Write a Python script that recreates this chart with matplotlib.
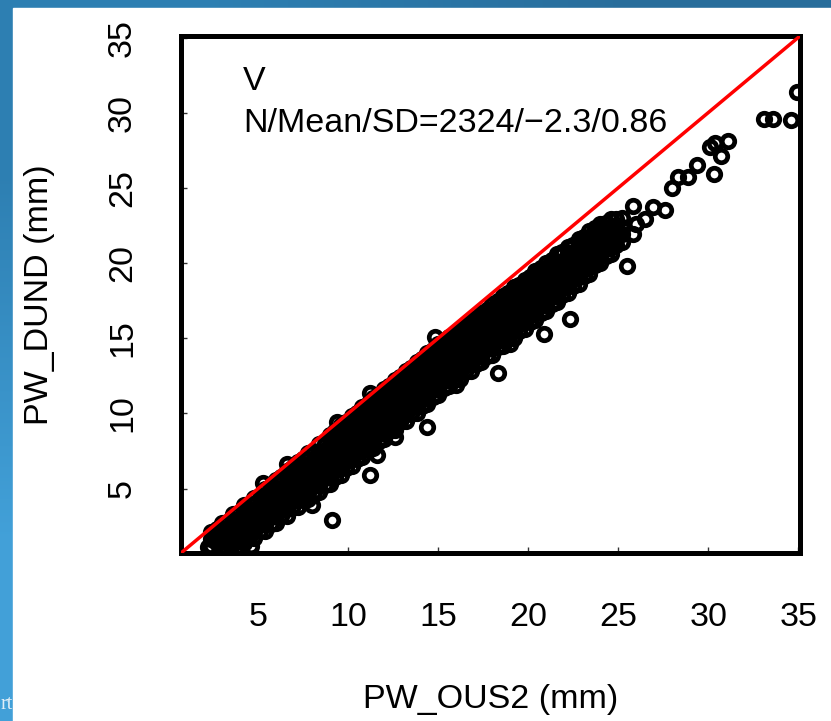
import matplotlib
matplotlib.use("Agg")
import matplotlib.pyplot as plt
from matplotlib.patches import Rectangle
import numpy as np

plt.rcParams['font.family'] = ['Liberation Sans', 'DejaVu Sans']

# dense band: PW_OUS2 column values and the PW_DUND values seen at each one
band_ous2 = [2.4, 2.7, 3.0, 3.3, 3.6, 3.9, 4.2, 4.5, 4.8, 5.1, 5.4, 5.7,
             6.0, 6.3, 6.6, 6.9, 7.2, 7.5, 7.8, 8.1, 8.4, 8.7, 9.0, 9.3,
             9.6, 9.9, 10.2, 10.5, 10.8, 11.1, 11.4, 11.7, 12.0, 12.3, 12.6,
             12.9, 13.2, 13.5, 13.8, 14.1, 14.4, 14.7, 15.0, 15.3, 15.6, 15.9,
             16.2, 16.5, 16.8, 17.1, 17.4, 17.7, 18.0, 18.3, 18.6, 18.9, 19.2,
             19.5, 19.8, 20.1, 20.4, 20.7, 21.0, 21.3, 21.6, 21.9, 22.2, 22.5,
             22.8, 23.1, 23.4, 23.7, 24.0, 24.3, 24.6, 24.9, 25.2]
band_dund = [
    [1.2, 1.65, 2.1],
    [1.4, 1.85, 2.3],
    [1.2, 1.6, 2.0, 2.35, 2.7],
    [1.45, 1.9, 2.35, 2.8],
    [1.3, 1.75, 2.2, 2.6, 3.0, 3.3],
    [1.55, 2.0, 2.45, 2.9, 3.35],
    [1.4, 1.85, 2.3, 2.75, 3.2, 3.6, 3.9],
    [1.75, 2.2, 2.65, 3.1, 3.55, 4.0],
    [1.7, 2.15, 2.6, 3.05, 3.5, 3.95, 4.4],
    [2.15, 2.6, 3.05, 3.5, 3.95, 4.4],
    [2.2, 2.65, 3.1, 3.55, 4.0, 4.5, 5.0],
    [2.65, 3.1, 3.55, 4.0, 4.45, 4.9, 5.2],
    [2.7, 3.15, 3.6, 4.05, 4.5, 4.95, 5.35, 5.6],
    [3.15, 3.6, 4.05, 4.5, 4.95, 5.4, 5.8],
    [3.2, 3.65, 4.1, 4.55, 5.0, 5.4, 5.8, 6.2],
    [3.7, 4.15, 4.6, 5.05, 5.5, 5.95, 6.4],
    [3.8, 4.25, 4.7, 5.15, 5.6, 6.0, 6.4, 6.8],
    [4.25, 4.7, 5.15, 5.6, 6.05, 6.5, 6.95],
    [4.3, 4.75, 5.2, 5.65, 6.1, 6.55, 7.0, 7.4],
    [4.75, 5.2, 5.65, 6.1, 6.55, 7.0, 7.45],
    [4.8, 5.25, 5.7, 6.15, 6.6, 7.05, 7.5, 8.0],
    [5.25, 5.7, 6.15, 6.6, 7.05, 7.5, 7.95],
    [5.3, 5.75, 6.2, 6.65, 7.1, 7.55, 8.0, 8.3, 8.6],
    [5.8, 6.25, 6.7, 7.15, 7.6, 8.05, 8.5, 8.8],
    [5.9, 6.35, 6.8, 7.25, 7.7, 8.15, 8.6, 8.9, 9.2],
    [6.4, 6.85, 7.3, 7.75, 8.2, 8.65, 9.1, 9.4],
    [6.5, 6.95, 7.4, 7.85, 8.3, 8.75, 9.2, 9.5, 9.8],
    [7.0, 7.45, 7.9, 8.35, 8.8, 9.25, 9.7, 10.0],
    [7.1, 7.55, 8.0, 8.45, 8.9, 9.35, 9.8, 10.1, 10.4],
    [7.6, 8.05, 8.5, 8.95, 9.4, 9.85, 10.3, 10.6],
    [7.7, 8.15, 8.6, 9.05, 9.5, 9.95, 10.4, 10.7, 11.0],
    [8.2, 8.65, 9.1, 9.55, 10.0, 10.45, 10.9, 11.2],
    [8.3, 8.75, 9.2, 9.65, 10.1, 10.55, 11.0, 11.3, 11.6],
    [8.8, 9.25, 9.7, 10.15, 10.6, 11.05, 11.5, 11.8],
    [8.9, 9.35, 9.8, 10.25, 10.7, 11.15, 11.6, 11.9, 12.2],
    [9.4, 9.85, 10.3, 10.75, 11.2, 11.65, 12.1, 12.4],
    [9.5, 9.95, 10.4, 10.85, 11.3, 11.75, 12.2, 12.5, 12.8],
    [9.95, 10.4, 10.85, 11.3, 11.75, 12.2, 12.65, 13.0],
    [10.0, 10.45, 10.9, 11.35, 11.8, 12.25, 12.7, 13.05, 13.4],
    [10.5, 10.95, 11.4, 11.85, 12.3, 12.75, 13.2, 13.6],
    [10.6, 11.05, 11.5, 11.95, 12.4, 12.85, 13.3, 13.65, 14.0],
    [11.1, 11.55, 12.0, 12.45, 12.9, 13.35, 13.8, 14.2],
    [11.2, 11.65, 12.1, 12.55, 13.0, 13.45, 13.9, 14.25, 14.6],
    [11.7, 12.15, 12.6, 13.05, 13.5, 13.95, 14.4, 14.75],
    [11.8, 12.25, 12.7, 13.15, 13.6, 14.05, 14.5, 14.8, 15.1],
    [12.25, 12.7, 13.15, 13.6, 14.05, 14.5, 14.95, 15.25],
    [12.3, 12.75, 13.2, 13.65, 14.1, 14.55, 15.0, 15.3, 15.6],
    [12.75, 13.2, 13.65, 14.1, 14.55, 15.0, 15.45, 15.8],
    [12.8, 13.25, 13.7, 14.15, 14.6, 15.05, 15.5, 15.85, 16.2],
    [13.3, 13.75, 14.2, 14.65, 15.1, 15.55, 16.0, 16.35],
    [13.4, 13.85, 14.3, 14.75, 15.2, 15.65, 16.1, 16.4, 16.7],
    [13.85, 14.3, 14.75, 15.2, 15.65, 16.1, 16.55, 16.9],
    [13.9, 14.35, 14.8, 15.25, 15.7, 16.15, 16.6, 16.95, 17.3],
    [14.4, 14.85, 15.3, 15.75, 16.2, 16.65, 17.1, 17.45],
    [14.5, 14.95, 15.4, 15.85, 16.3, 16.75, 17.2, 17.5, 17.8],
    [14.95, 15.4, 15.85, 16.3, 16.75, 17.2, 17.65, 18.0],
    [15.0, 15.45, 15.9, 16.35, 16.8, 17.25, 17.7, 18.05, 18.4],
    [15.5, 15.95, 16.4, 16.85, 17.3, 17.75, 18.2, 18.55],
    [15.6, 16.05, 16.5, 16.95, 17.4, 17.85, 18.3, 18.6, 18.9],
    [16.1, 16.55, 17.0, 17.45, 17.9, 18.35, 18.8, 19.1],
    [16.2, 16.65, 17.1, 17.55, 18.0, 18.45, 18.9, 19.2, 19.5],
    [16.7, 17.15, 17.6, 18.05, 18.5, 18.95, 19.4, 19.65],
    [16.8, 17.25, 17.7, 18.15, 18.6, 19.05, 19.5, 20.0],
    [17.3, 17.75, 18.2, 18.65, 19.1, 19.55, 20.0, 20.2],
    [17.4, 17.85, 18.3, 18.75, 19.2, 19.65, 20.1, 20.6],
    [17.9, 18.35, 18.8, 19.25, 19.7, 20.15, 20.6, 20.75],
    [18.0, 18.45, 18.9, 19.35, 19.8, 20.25, 20.7, 21.1],
    [18.5, 18.95, 19.4, 19.85, 20.3, 20.75, 21.2],
    [18.6, 19.05, 19.5, 19.95, 20.4, 20.85, 21.3, 21.6],
    [19.15, 19.6, 20.05, 20.5, 20.95, 21.4, 21.75],
    [19.3, 19.75, 20.2, 20.65, 21.1, 21.55, 22.1],
    [19.85, 20.3, 20.75, 21.2, 21.65, 22.1, 22.3],
    [20.0, 20.45, 20.9, 21.35, 21.8, 22.2, 22.6],
    [20.5, 20.95, 21.4, 21.85, 22.3, 22.65],
    [20.6, 21.05, 21.5, 21.95, 22.4, 22.9],
    [21.2, 21.65, 22.1, 22.55, 22.95],
    [21.4, 21.9, 22.4, 23.0],
]

# ragged points along the band edges
edge_ous2 = [2.2, 3.3, 4.0, 4.6, 5.3, 6.6, 9.4, 11.2, 12.6, 8.0, 16.0, 19.0]
edge_dund = [1.1, 1.0, 1.05, 1.2, 5.35, 6.65, 9.45, 11.35, 8.45, 3.9, 11.9, 14.6]

# isolated points away from the band
out_ous2 = [9.1, 11.2, 11.6, 14.4, 18.3, 20.9, 22.3, 25.5, 14.8]
out_dund = [2.9, 5.9, 7.25, 9.1, 12.7, 15.3, 16.3, 19.8, 15.1]

# high-water tail
tail_ous2 = [25.85, 26.96, 27.6, 28.0, 28.3, 28.9, 29.4, 30.3, 30.1, 30.7,
             31.1, 30.4, 33.1, 33.6, 34.6, 34.95, 26.0, 26.5, 25.8]
tail_dund = [23.8, 23.7, 23.5, 25.0, 25.7, 25.7, 26.5, 25.9, 27.7, 27.1,
             28.1, 28.0, 29.6, 29.6, 29.5, 31.4, 22.6, 22.9, 21.9]

ticks = [5, 10, 15, 20, 25, 30, 35]
lims = (0.72, 35.1)

x = np.concatenate([np.repeat(band_ous2, [len(c) for c in band_dund]),
                    edge_ous2, out_ous2, tail_ous2])
y = np.concatenate([np.concatenate(band_dund), edge_dund, out_dund, tail_dund])

fig = plt.figure(figsize=(8.31, 7.21), dpi=100)

# blue page backdrop with the white panel on top
bg = fig.add_axes([0, 0, 1, 1], zorder=0)
grad = np.array([[[0.18, 0.50, 0.70], [0.16, 0.43, 0.61]],
                 [[0.26, 0.63, 0.85], [0.22, 0.55, 0.75]]])
bg.imshow(grad, extent=[0, 831, 721, 0], interpolation='bilinear', aspect='auto')
bg.add_patch(Rectangle((13, 8), 830, 720, color='white', zorder=3))
bg.text(0.3, 709, 'rt', family='Liberation Serif', fontsize=14.5,
        color='#e0eef8', zorder=4)
bg.set_xlim(0, 831)
bg.set_ylim(721, 0)
bg.axis('off')

ax = fig.add_axes([181 / 831, 168 / 721, 619 / 831, 517 / 721], zorder=1)
ax.plot(x, y, 'o', ms=9, mfc='none', mec='black', mew=3.4)
ax.plot(lims, lims, color='#ff0000', lw=2.5, zorder=3)

ax.set_xlim(lims)
ax.set_ylim(lims)
ax.set_xticks(ticks)
ax.set_yticks(ticks)
ax.tick_params(direction='in', length=4, width=1, color='#333333',
               labelsize=24.5)
ax.tick_params(axis='x', pad=35)
ax.tick_params(axis='y', pad=31, labelrotation=90)
for lab in ax.get_yticklabels():
    lab.set_va('center')
for s in ax.spines.values():
    s.set_linewidth(3.6)

ax.set_xlabel('PW_OUS2 (mm)', fontsize=24.5)
ax.xaxis.label.set_va('center')
ax.xaxis.set_label_coords(0.5, -0.284)
ax.set_ylabel('PW_DUND (mm)', fontsize=24.5)
ax.yaxis.label.set_va('center')
ax.yaxis.set_label_coords(-0.228, 0.5)

ax.text(0.1, 0.8956, 'V', transform=ax.transAxes, fontsize=24.5, va='baseline')
ax.text(0.1, 0.8143, 'N/Mean/SD=2324/\u22122.3/0.86', transform=ax.transAxes,
        fontsize=24.5, va='baseline')

fig.savefig('out.png', dpi=100)
